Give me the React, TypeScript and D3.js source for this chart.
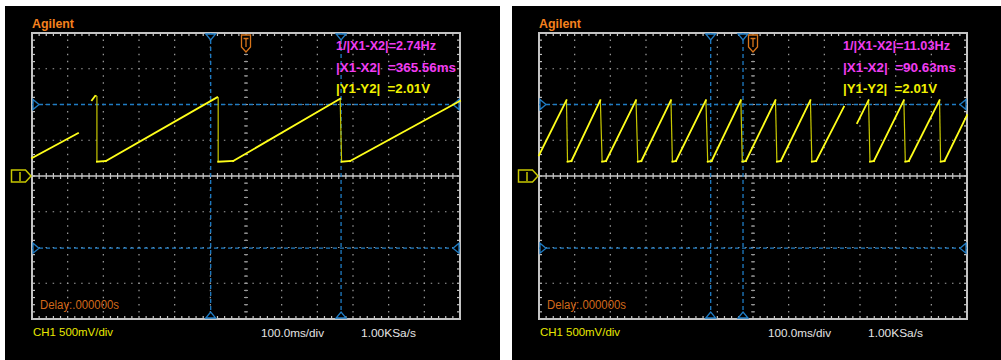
import React from 'react';
import * as d3 from 'd3';

// Screen layout
const W = 1001;
const H = 360;
const H_DIVS = 12;
const V_DIVS = 8;
const SUBDIV = 5;
const MS_PER_DIV = 100;
const V_PER_DIV = 0.5;

// Channel 1, slow ramp capture: time from trigger (ms) and volts; null breaks the trace
const slowTime: (number | null)[] = [
  -600, -471, null,
  -432, -423, -418, -418, -393, -81, -78, -78, -36, 264, 266, 268, 292, 600,
];
const slowVolt: (number | null)[] = [
  0.25, 0.6, null,
  1.06, 1.12, 1.12, 0.2, 0.21, 1.1, 1.1, 0.2, 0.21, 1.08, 0.64, 0.2, 0.21, 1.05,
];

// Channel 1, fast ramp capture
const fastTime: (number | null)[] = [
  -600, -523, -520, -509, -428, -423, -412, -328, -323, -313, -230, -226, -216,
  -132, -127, -116, -34, -30, -20, 63, 67, 78, 161, 165, 177, 255, null,
  292, 324, 328, 339, 423, 427, 437, 523, 526, 537, 600,
];
const fastVolt: (number | null)[] = [
  0.29, 1.06, 0.2, 0.21, 1.06, 0.2, 0.21, 1.06, 0.2, 0.21, 1.06, 0.2, 0.21,
  1.06, 0.2, 0.21, 1.06, 0.2, 0.21, 1.06, 0.2, 0.21, 1.06, 0.2, 0.21, 0.97, null,
  0.74, 1.06, 0.2, 0.21, 1.06, 0.2, 0.21, 1.06, 0.2, 0.21, 0.85,
];

// Cursor readings per capture
const cursorX1 = [-99.0, -118.6];
const cursorDX = [365.56, 90.63];
const cursorY1 = [1.0, 1.0];
const cursorDY = [2.01, 2.01];

const channelLabel = 'CH1 500mV/div';
const timebaseLabel = '100.0ms/div';
const sampleLabel = '1.00KSa/s';
const delayLabel = 'Delay:.000000s';
const brand = 'Agilent';

const FONT = "'Liberation Sans', Arial, sans-serif";
const GRID = '#c4c4c4';
const DOT = '#a0a0a0';
const CURSOR = '#1f7cc4';
const ORANGE = '#f5821e';
const TRACE = '#ffff1a';
const TRACE_DIM = '#c8c800';

type PanelProps = {
  frameX: number;
  frameW: number;
  gx: number;
  times: (number | null)[];
  volts: (number | null)[];
  x1: number;
  dx: number;
  y1: number;
  dy: number;
};

const GY = 33;
const GW = 428;
const GH = 286;

function ScopePanel({ frameX, frameW, gx, times, volts, x1, dx, y1, dy }: PanelProps) {
  const half = (H_DIVS / 2) * MS_PER_DIV;
  const vHalf = (V_DIVS / 2) * V_PER_DIV;
  const x = d3.scaleLinear().domain([-half, half]).range([gx, gx + GW]);
  const y = d3.scaleLinear().domain([-vHalf, vHalf]).range([GY + GH, GY]);

  const divX = GW / H_DIVS;
  const divY = GH / V_DIVS;
  const minX = divX / SUBDIV;
  const minY = divY / SUBDIV;
  const cx = gx + GW / 2;
  const cy = GY + GH / 2;

  const pts = times.map((t, i) => (t === null || volts[i] === null ? null : [t, volts[i] as number] as [number, number]));
  const line = d3.line<[number, number]>().x((d) => x(d[0])).y((d) => y(d[1]));

  const ramps: string[] = [];
  const drops: string[] = [];
  for (let i = 0; i < pts.length - 1; i++) {
    const a = pts[i];
    const b = pts[i + 1];
    if (!a || !b) continue;
    const seg = line([a, b]) as string;
    if (Math.abs(x(b[0]) - x(a[0])) < 2.5) drops.push(seg);
    else ramps.push(seg);
  }

  const fmt = d3.format('.2f');
  const xs = [x(x1), x(x1 + dx)];
  const ys = [y(y1), y(y1 - dy)];

  const vLines = d3.range(1, H_DIVS);
  const hLines = d3.range(1, V_DIVS).filter((k) => k !== V_DIVS / 2);
  const minorXs = d3.range(1, H_DIVS * SUBDIV).map((j) => gx + j * minX);
  const minorYs = d3.range(1, V_DIVS * SUBDIV).map((j) => GY + j * minY);

  const tx = gx + 304;

  return (
    <g>
      <rect x={frameX} y={6} width={frameW} height={H - 6} fill="#000" />

      {/* dotted graticule */}
      {vLines.map((k) => (
        <line key={'v' + k} x1={gx + k * divX} x2={gx + k * divX} y1={GY} y2={GY + GH}
          stroke={DOT} strokeWidth={1.2} strokeDasharray={`1.5 ${minY - 1.5}`} strokeDashoffset={0.75} />
      ))}
      {hLines.map((k) => (
        <line key={'h' + k} x1={gx} x2={gx + GW} y1={GY + k * divY} y2={GY + k * divY}
          stroke={DOT} strokeWidth={1.2} strokeDasharray={`1.5 ${minX - 1.5}`} strokeDashoffset={0.75} />
      ))}

      {/* centre axis with minor ticks */}
      <line x1={gx} x2={gx + GW} y1={cy} y2={cy} stroke={GRID} strokeWidth={1.5} />
      {minorXs.map((mx, j) => (
        <line key={'cxt' + j} x1={mx} x2={mx} y1={cy - 3} y2={cy + 3} stroke={GRID} strokeWidth={1.2} />
      ))}
      {minorYs.map((my, j) => (
        <line key={'cyt' + j} x1={cx - 2} x2={cx + 2} y1={my} y2={my} stroke={DOT} strokeWidth={1} />
      ))}

      {/* border ticks */}
      {minorXs.map((mx, j) => (
        <g key={'bt' + j}>
          <line x1={mx} x2={mx} y1={GY} y2={GY + 3} stroke={GRID} strokeWidth={1.2} />
          <line x1={mx} x2={mx} y1={GY + GH - 3} y2={GY + GH} stroke={GRID} strokeWidth={1.2} />
        </g>
      ))}
      {minorYs.map((my, j) => (
        <g key={'bl' + j}>
          <line x1={gx} x2={gx + 3} y1={my} y2={my} stroke={GRID} strokeWidth={1.2} />
          <line x1={gx + GW - 3} x2={gx + GW} y1={my} y2={my} stroke={GRID} strokeWidth={1.2} />
        </g>
      ))}
      <rect x={gx} y={GY} width={GW} height={GH} fill="none" stroke={GRID} strokeWidth={2} />

      {/* cursors */}
      {xs.map((cxv, i) => (
        <g key={'xc' + i}>
          <line x1={cxv} x2={cxv} y1={GY} y2={GY + GH} stroke={CURSOR} strokeWidth={1.3} strokeDasharray="4 3" />
          <path d={`M${cxv - 5},${GY + 1}H${cxv + 5}L${cxv},${GY + 7}Z`} fill="#000" stroke={CURSOR} strokeWidth={1.3} />
          <path d={`M${cxv - 5},${GY + GH - 1}H${cxv + 5}L${cxv},${GY + GH - 7}Z`} fill="#000" stroke={CURSOR} strokeWidth={1.3} />
        </g>
      ))}
      {ys.map((cyv, i) => (
        <g key={'yc' + i}>
          <line x1={gx} x2={gx + GW} y1={cyv} y2={cyv} stroke={CURSOR} strokeWidth={1.3} strokeDasharray="4 3" />
          <path d={`M${gx + 1},${cyv - 5}V${cyv + 5}L${gx + 7},${cyv}Z`} fill="#000" stroke={CURSOR} strokeWidth={1.3} />
          <path d={`M${gx + GW - 1},${cyv - 5}V${cyv + 5}L${gx + GW - 7},${cyv}Z`} fill="#000" stroke={CURSOR} strokeWidth={1.3} />
        </g>
      ))}

      {/* trace */}
      {drops.map((d, i) => (
        <path key={'d' + i} d={d} fill="none" stroke={TRACE_DIM} strokeWidth={1.2} />
      ))}
      {ramps.map((d, i) => (
        <path key={'r' + i} d={d} fill="none" stroke={TRACE} strokeWidth={1.8} strokeLinecap="square" />
      ))}

      {/* trigger marker */}
      <path d={`M${cx - 4.5},${GY + 2}H${cx + 4.5}V${GY + 14}L${cx},${GY + 19}L${cx - 4.5},${GY + 14}Z`}
        fill="#000" stroke="#d8741a" strokeWidth={1.3} />
      <path d={`M${cx - 2.5},${GY + 5.5}H${cx + 2.5}M${cx},${GY + 5.5}V${GY + 14}`} stroke="#d8741a" strokeWidth={1.3} />

      {/* channel ground marker */}
      <path d={`M${gx - 20.5},${cy - 6}H${gx - 6.5}L${gx - 1},${cy}L${gx - 6.5},${cy + 6}H${gx - 20.5}Z`}
        fill="#000" stroke="#c8c800" strokeWidth={1.5} />
      <path d={`M${gx - 12},${cy - 4}V${cy + 5}`} stroke="#c8c800" strokeWidth={1.5} />

      {/* labels */}
      <text x={gx} y={28} fill={ORANGE} fontFamily={FONT} fontSize={13} fontWeight="bold" textLength={42} lengthAdjust="spacingAndGlyphs">{brand}</text>
      <text x={tx} y={50} fill="#f03cf0" fontFamily={FONT} fontSize={12} fontWeight="bold"
        textLength={readoutWidth(fmt(1000 / dx), 107)} lengthAdjust="spacingAndGlyphs" style={{ whiteSpace: 'pre' }}>
        {`1/|X1-X2|=${fmt(1000 / dx)}Hz`}
      </text>
      <text x={tx} y={72} fill="#f03cf0" fontFamily={FONT} fontSize={12} fontWeight="bold"
        textLength={readoutWidth(fmt(dx), 113)} lengthAdjust="spacingAndGlyphs" style={{ whiteSpace: 'pre' }}>
        {`|X1-X2|  =${fmt(dx)}ms`}
      </text>
      <text x={tx} y={93} fill="#f0f000" fontFamily={FONT} fontSize={12} fontWeight="bold"
        textLength={94} lengthAdjust="spacingAndGlyphs" style={{ whiteSpace: 'pre' }}>
        {`|Y1-Y2|  =${fmt(dy)}V`}
      </text>
      <text x={gx + 8} y={309} fill="#d2691a" fontFamily={FONT} fontSize={12} textLength={79} lengthAdjust="spacingAndGlyphs">{delayLabel}</text>
      <text x={gx + 1} y={336} fill="#e8e800" fontFamily={FONT} fontSize={11.5} textLength={80} lengthAdjust="spacingAndGlyphs">{channelLabel}</text>
      <text x={gx + 229} y={337} fill="#e4e4e4" fontFamily={FONT} fontSize={11.5} textLength={63} lengthAdjust="spacingAndGlyphs">{timebaseLabel}</text>
      <text x={gx + 329} y={337} fill="#e4e4e4" fontFamily={FONT} fontSize={11.5} textLength={55} lengthAdjust="spacingAndGlyphs">{sampleLabel}</text>
    </g>
  );
}

// Readout width grows with the number of characters in its value
function readoutWidth(value: string, base: number) {
  return base + (value.length - 5) * 7;
}

export default function App() {
  return (
    <svg width={W} height={H} style={{ position: 'absolute', left: 0, top: 0, display: 'block' }}>
      <rect width={W} height={H} fill="#fff" />
      <ScopePanel frameX={5} frameW={495} gx={32} times={slowTime} volts={slowVolt}
        x1={cursorX1[0]} dx={cursorDX[0]} y1={cursorY1[0]} dy={cursorDY[0]} />
      <ScopePanel frameX={512} frameW={489} gx={539} times={fastTime} volts={fastVolt}
        x1={cursorX1[1]} dx={cursorDX[1]} y1={cursorY1[1]} dy={cursorDY[1]} />
    </svg>
  );
}
